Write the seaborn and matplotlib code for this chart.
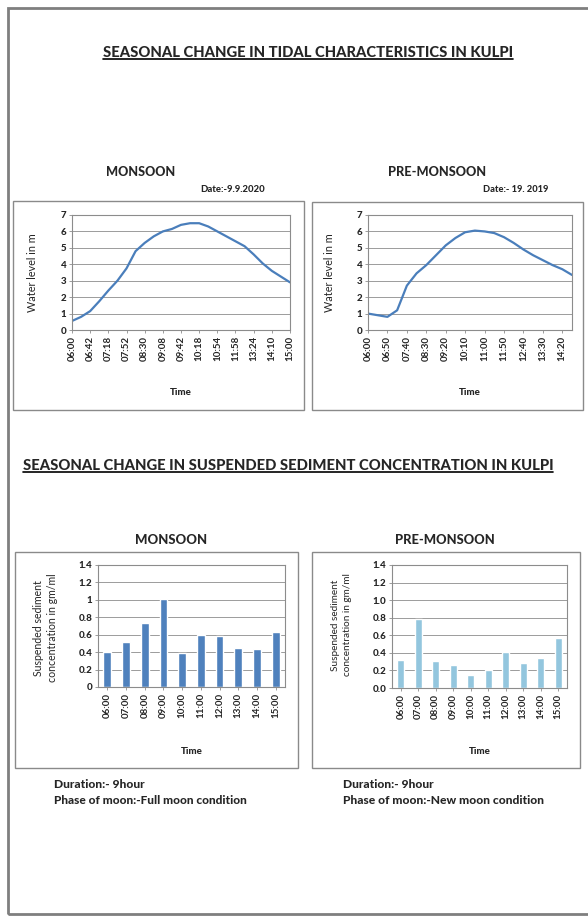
import numpy as np
import matplotlib
matplotlib.use("Agg")
import matplotlib.pyplot as plt
from matplotlib.patches import Rectangle
from matplotlib.lines import Line2D
import seaborn as sns

# tidal curves (values read every half tick interval)
mon_tide_times = ["06:00", "06:42", "07:18", "07:52", "08:30", "09:08", "09:42",
                  "10:18", "10:54", "11:58", "13:24", "14:10", "15:00"]
mon_level = [0.55, 0.8, 1.15, 1.75, 2.4, 3.0, 3.75, 4.8, 5.3, 5.7, 6.0, 6.15, 6.4,
             6.5, 6.5, 6.3, 6.0, 5.7, 5.4, 5.1, 4.6, 4.05, 3.6, 3.25, 2.9]

pre_tide_times = ["06:00", "06:50", "07:40", "08:30", "09:20", "10:10",
                  "11:00", "11:50", "12:40", "13:30", "14:20"]
pre_level = [1.0, 0.9, 0.8, 1.2, 2.7, 3.45, 3.95, 4.55, 5.15, 5.6, 5.95,
             6.05, 6.0, 5.9, 5.65, 5.3, 4.9, 4.55, 4.25, 3.95, 3.7, 3.35]

# suspended sediment concentration
ssc_times = ["06:00", "07:00", "08:00", "09:00", "10:00",
             "11:00", "12:00", "13:00", "14:00", "15:00"]
mon_ssc = [0.40, 0.52, 0.73, 1.01, 0.39, 0.60, 0.59, 0.45, 0.44, 0.63]
pre_ssc = [0.32, 0.78, 0.31, 0.26, 0.15, 0.21, 0.41, 0.29, 0.34, 0.57]

W, H = 588, 916
sns.set_theme(style="white")
plt.rcParams['font.family'] = ['Lato', 'DejaVu Sans']

fig = plt.figure(figsize=(W / 100, H / 100), dpi=100)
renderer = fig.canvas.get_renderer()

LINE_C = '#4A7EBB'
GRID_C = '#8C8C8C'


def put(x, y, s, width=None, size=8, **kw):
    # place text at pixel coords, optionally scale font to hit a pixel width
    t = fig.text(x / W, 1 - y / H, s, fontsize=size, va='center', **kw)
    if width:
        w = t.get_window_extent(renderer).width
        t.set_fontsize(size * width / w)
    return t


def underline(t):
    bb = t.get_window_extent(renderer)
    yy = (bb.y0 + 1) / H
    fig.add_artist(Line2D([bb.x0 / W, bb.x1 / W], [yy, yy], color='black', lw=1.2))


def box(l, t, r, b, color='#8A8A8A', lw=1.0):
    fig.add_artist(Rectangle((l / W, 1 - b / H), (r - l) / W, (b - t) / H,
                             transform=fig.transFigure, fill=False, ec=color, lw=lw))


def px_axes(l, t, r, b):
    return fig.add_axes([l / W, 1 - b / H, (r - l) / W, (b - t) / H])


def style(ax, ymax, ystep, fmt):
    ax.set_ylim(0, ymax)
    yt = np.arange(0, ymax + ystep / 2, ystep)
    ax.set_yticks(yt)
    ax.set_yticklabels([fmt(v) for v in yt], fontsize=7, fontweight='black')
    ax.yaxis.grid(True, color=GRID_C, lw=0.6)
    ax.set_axisbelow(True)
    for s in ax.spines.values():
        s.set_color(GRID_C)
        s.set_linewidth(0.8)
    ax.tick_params(axis='both', which='both', length=2, width=0.6, color=GRID_C,
                   pad=2, left=True, bottom=True)
    ax.set_xlabel('Time', fontsize=7, fontweight='black')


def xlabels(ax, labels):
    ax.set_xticks(range(len(labels)))
    ax.set_xticklabels(labels, rotation=90, fontsize=7, fontweight='bold')


# page frame and chart areas
box(8, 8, 605, 914, color='#7F7F7F', lw=2)
box(13, 201, 304, 410)
box(312, 202, 583, 410)
box(15, 552, 298, 768)
box(312, 552, 580, 768)

# headings
hw = 'black'
t1 = put(308, 53, 'SEASONAL CHANGE IN TIDAL CHARACTERISTICS IN KULPI', width=407,
         ha='center', fontweight=hw)
underline(t1)
t2 = put(288, 466, 'SEASONAL CHANGE IN SUSPENDED SEDIMENT CONCENTRATION IN KULPI',
         width=529, ha='center', fontweight=hw)
underline(t2)
put(141, 172, 'MONSOON', width=69, ha='center', fontweight=hw)
put(437, 172, 'PRE-MONSOON', width=99, ha='center', fontweight=hw)
put(233, 190, 'Date:-9.9.2020', width=64, ha='center', fontweight=hw)
put(516, 190, 'Date:- 19. 2019', width=65, ha='center', fontweight=hw)
put(171, 540, 'MONSOON', width=72, ha='center', fontweight=hw)
put(445, 540, 'PRE-MONSOON', width=100, ha='center', fontweight=hw)

put(54, 784, 'Duration:- 9hour', width=91, ha='left', fontweight=hw)
put(54, 801, 'Phase of moon:-Full moon condition', width=195, ha='left', fontweight=hw)
put(343, 784, 'Duration:- 9hour', width=91, ha='left', fontweight=hw)
put(343, 801, 'Phase of moon:-New moon condition', width=201, ha='left', fontweight=hw)

# tidal line charts
ax1 = px_axes(72, 215, 290, 330)
sns.lineplot(x=np.arange(len(mon_level)) / 2, y=mon_level, ax=ax1, color=LINE_C, lw=1.6)
ax1.set_xlim(0, len(mon_tide_times) - 1)
xlabels(ax1, mon_tide_times)
style(ax1, 7, 1, lambda v: f'{v:.0f}')
ax1.set_ylabel('Water level in m', fontsize=7.8)
ax1.yaxis.set_label_coords((38 - 72) / 218, 0.5)
ax1.xaxis.set_label_coords(0.5, -(388 - 330) / 115)

ax2 = px_axes(368, 215, 572, 330)
sns.lineplot(x=np.arange(len(pre_level)) / 2, y=pre_level, ax=ax2, color=LINE_C, lw=1.6)
ax2.set_xlim(0, (len(pre_level) - 1) / 2)
xlabels(ax2, pre_tide_times)
style(ax2, 7, 1, lambda v: f'{v:.0f}')
ax2.set_ylabel('Water level in m', fontsize=7.8)
ax2.yaxis.set_label_coords((335 - 368) / 204, 0.5)
ax2.xaxis.set_label_coords(0.5, -(388 - 330) / 115)

# sediment bar charts
ax3 = px_axes(98, 565, 285, 687)
sns.barplot(x=ssc_times, y=mon_ssc, ax=ax3, color='#4F81BD', saturation=1, width=0.42)
ax3.set_xlim(-0.5, len(ssc_times) - 0.5)
xlabels(ax3, ssc_times)
style(ax3, 1.4, 0.2, lambda v: f'{v:g}')
ax3.set_ylabel('')
ax3.xaxis.set_label_coords(0.5, -(747 - 687) / 122)
put(38, 628, 'Suspended sediment', size=7.6, rotation=90, ha='center')
put(53, 628, 'concentration in gm/ml', size=7.6, rotation=90, ha='center')

ax4 = px_axes(392, 565, 567, 688)
sns.barplot(x=ssc_times, y=pre_ssc, ax=ax4, color='#93C6DE', saturation=1, width=0.38)
ax4.set_xlim(-0.5, len(ssc_times) - 0.5)
xlabels(ax4, ssc_times)
style(ax4, 1.4, 0.2, lambda v: f'{v:.1f}')
ax4.set_ylabel('')
ax4.xaxis.set_label_coords(0.5, -(747 - 688) / 123)
put(336, 625, 'Suspended sediment', size=7.2, rotation=90, ha='center')
put(348, 625, 'concentration in gm/ml', size=7.2, rotation=90, ha='center')

fig.savefig('out.png', dpi=100)
